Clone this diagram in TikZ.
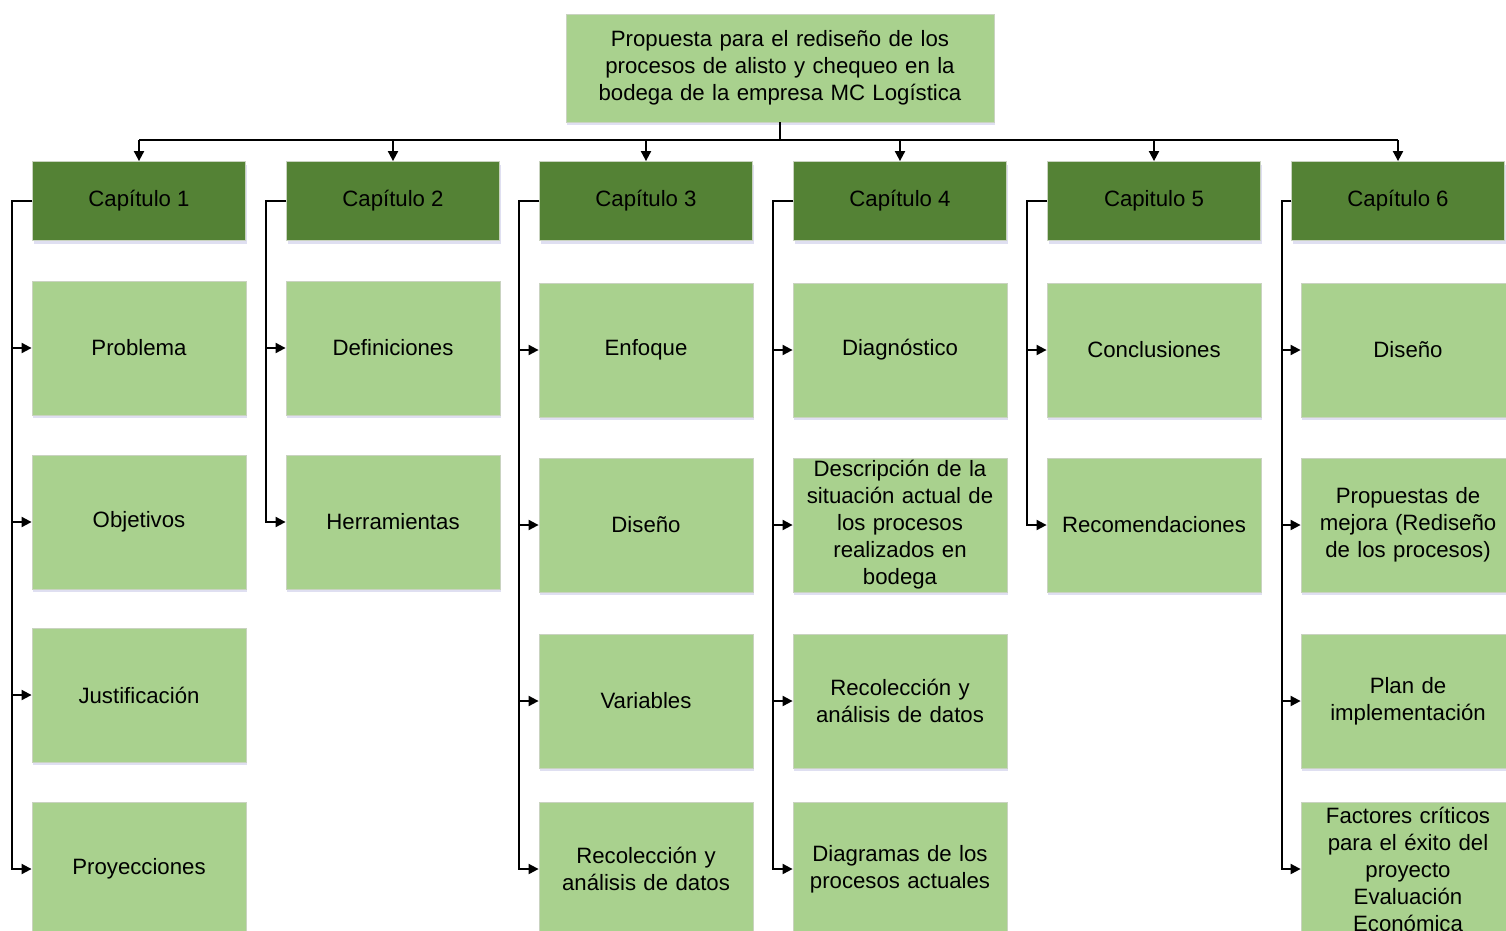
\documentclass[tikz,border=0pt]{standalone}
\usepackage{fontspec}
\setmainfont{Liberation Sans}
\usetikzlibrary{shadows,arrows.meta}
\definecolor{light}{HTML}{A9D18E}
\definecolor{dark}{HTML}{548235}
\definecolor{edge}{HTML}{C9D3C0}
\begin{document}
\begin{tikzpicture}[x=1pt,y=-1pt,
  box/.style={draw=edge, line width=0.8pt, align=center, inner sep=2pt,
    font=\fontsize{22.2}{27}\selectfont,
    drop shadow={shadow xshift=1pt, shadow yshift=-3pt, opacity=0.18, fill=blue!40!gray}},
  topbox/.style={box, fill=light, minimum width=428pt, minimum height=108pt, text width=415pt},
  chap/.style={box, fill=dark, minimum width=213pt, minimum height=79pt},
  item/.style={box, fill=light, minimum width=214pt, minimum height=134pt, text width=205pt},
  arr/.style={line width=1.9pt, -{Triangle[length=10pt,width=10pt]}},
  ln/.style={line width=1.9pt}]
\useasboundingbox (0,0) rectangle (1506,930);
\clip (0,0) rectangle (1506,930);

% root
\node[topbox] (root) at (780,68) {Propuesta para el rediseño de los\\procesos de alisto y chequeo en la\\bodega de la empresa MC Logística};

% chapters
\node[chap] (c1) at (139,201) {Capítulo 1};
\node[chap] (c2) at (393,201) {Capítulo 2};
\node[chap] (c3) at (646,201) {Capítulo 3};
\node[chap] (c4) at (900,201) {Capítulo 4};
\node[chap] (c5) at (1154,201) {Capitulo 5};
\node[chap] (c6) at (1398,201) {Capítulo 6};

% chapter 1
\node[item] (a1) at (139,348) {Problema};
\node[item] (a2) at (139,522) {Objetivos};
\node[item] (a3) at (139,695) {Justificación};
\node[item] (a4) at (139,869) {Proyecciones};
% chapter 2
\node[item] (b1) at (393,348) {Definiciones};
\node[item] (b2) at (393,522) {Herramientas};
% chapter 3
\node[item] (d1) at (646,350) {Enfoque};
\node[item] (d2) at (646,525) {Diseño};
\node[item] (d3) at (646,701) {Variables};
\node[item] (d4) at (646,869) {Recolección y\\análisis de datos};
% chapter 4
\node[item] (e1) at (900,350) {Diagnóstico};
\node[item] (e2) at (900,525) {Descripción de la\\situación actual de\\los procesos\\realizados en\\bodega};
\node[item] (e3) at (900,701) {Recolección y\\análisis de datos};
\node[item] (e4) at (900,869) {Diagramas de los\\procesos actuales};
% chapter 5
\node[item] (f1) at (1154,350) {Conclusiones};
\node[item] (f2) at (1154,525) {Recomendaciones};
% chapter 6
\node[item] (g1) at (1408,350) {Diseño};
\node[item] (g2) at (1408,525) {Propuestas de\\mejora (Rediseño\\de los procesos)};
\node[item] (g3) at (1408,701) {Plan de\\implementación};
\node[item] (g4) at (1408,869) {Factores críticos\\para el éxito del\\proyecto\\Evaluación\\Económica};

% root to chapters
\coordinate (bus) at (780,140);
\draw[ln] (root.south) -- (bus);
\draw[ln] (c1.north |- bus) -- (c6.north |- bus);
\foreach \c in {c1,c2,c3,c4,c5,c6}
  \draw[arr] (\c.north |- bus) -- (\c.north);

% chapter to items
\foreach \c/\list in {c1/{a1,a2,a3,a4}, c2/{b1,b2}, c3/{d1,d2,d3,d4}, c4/{e1,e2,e3,e4}, c5/{f1,f2}}
  \foreach \i in \list
    \draw[arr] (\c.west) -- ++(-20,0) |- (\i.west);
\foreach \i in {g1,g2,g3,g4}
  \draw[arr] (c6.west) -- ++(-9,0) |- (\i.west);
\end{tikzpicture}
\end{document}
